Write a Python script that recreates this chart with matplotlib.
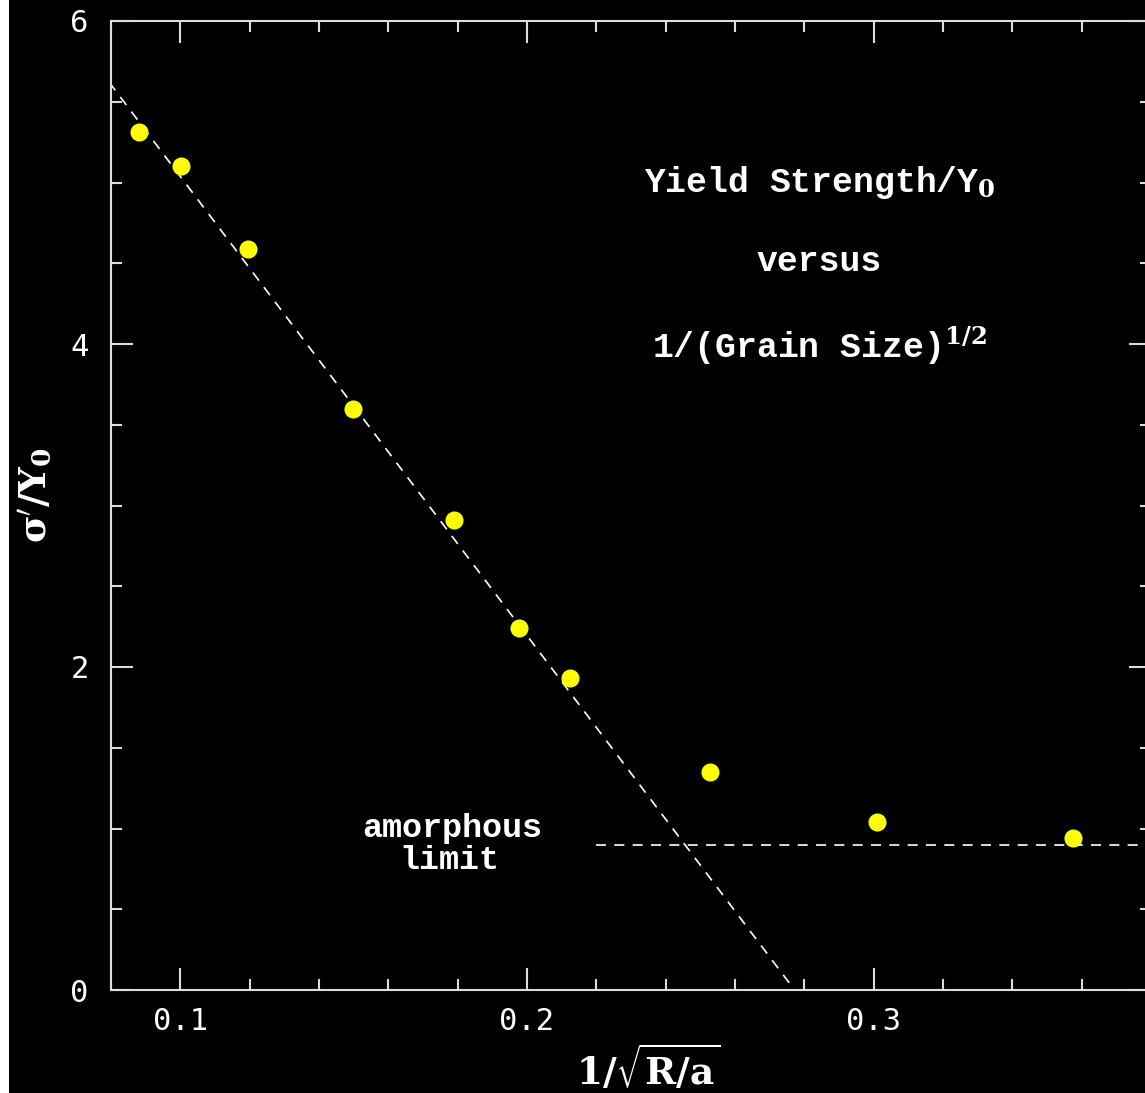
import matplotlib.pyplot as plt
from matplotlib.patches import Rectangle

plt.rcParams['mathtext.fontset'] = 'dejavuserif'

# data
inv_sqrt_size = [0.0882, 0.1003, 0.1194, 0.1497, 0.1789, 0.1977, 0.2124, 0.2529, 0.3009, 0.3575]
yield_ratio = [5.31, 5.10, 4.59, 3.60, 2.91, 2.24, 1.93, 1.35, 1.04, 0.94]

fit_x = [0.0795, 0.2772]
fit_y = [5.62, 0.0]

amorph_x = [0.22, 0.38]
amorph_y = [0.90, 0.90]

xticks = [0.1, 0.2, 0.3]
yticks = [0, 2, 4, 6]

fig = plt.figure(figsize=(11.45, 10.93), dpi=100, facecolor='black')
fig.patches.append(Rectangle((0, 0), 9 / 1145, 1, transform=fig.transFigure,
                             facecolor='white', edgecolor='none'))
ax = fig.add_axes([111 / 1145, 1 - 990 / 1093, 1040 / 1145, 969 / 1093])
ax.set_facecolor('black')

ax.plot(fit_x, fit_y, color='white', lw=1.2, dashes=(6, 5))
ax.plot(amorph_x, amorph_y, color='white', lw=1.2, dashes=(6, 5))
ax.plot(inv_sqrt_size, yield_ratio, 'o', color='#ffff00', ms=12, mec='#ffff00')

ax.set_xlim(0.08, 0.38)
ax.set_ylim(0, 6)
ax.set_xticks(xticks)
ax.set_xticklabels(['0.1', '0.2', '0.3'])
ax.set_yticks(yticks)
ax.set_xticks([0.08 + 0.02 * i for i in range(16)], minor=True)
ax.set_yticks([0.5 * i for i in range(13)], minor=True)

for s in ax.spines.values():
    s.set_color('#dddddd')
    s.set_linewidth(1.5)
ax.tick_params(which='both', direction='in', colors='#dddddd', top=True, right=True,
               width=1.5, labelsize=22)
ax.tick_params(axis='x', pad=12)
ax.tick_params(axis='y', pad=16)
ax.tick_params(which='major', length=16)
ax.tick_params(which='minor', length=8)
for lab in ax.get_xticklabels() + ax.get_yticklabels():
    lab.set_family('DejaVu Sans Mono')
    lab.set_color('white')

mono = dict(family='Liberation Mono', weight='bold', color='white', ha='center', va='center')
ax.text(0.2844, 5.0, r'Yield Strength/Y$_\mathbf{0}$', fontsize=25, **mono)
ax.text(0.2844, 4.51, 'versus', fontsize=25, **mono)
ax.text(0.2844, 3.99, r'1/(Grain Size)$^\mathbf{1/2}$', fontsize=25, **mono)
ax.text(0.1785, 1.0, 'amorphous', fontsize=24, **mono)
ax.text(0.1775, 0.80, 'limit', fontsize=24, **mono)

fig.text(648 / 1145, 1 - 1068 / 1093, r'$\mathbf{1/\sqrt{R/a}}$', fontsize=27,
         color='white', ha='center', va='center')
fig.text(36 / 1145, 1 - 495 / 1093, r"$\mathbf{\sigma^{\prime}/Y_0}$", fontsize=27,
         color='white', ha='center', va='center', rotation=90)

fig.savefig('out.png', facecolor='black')
